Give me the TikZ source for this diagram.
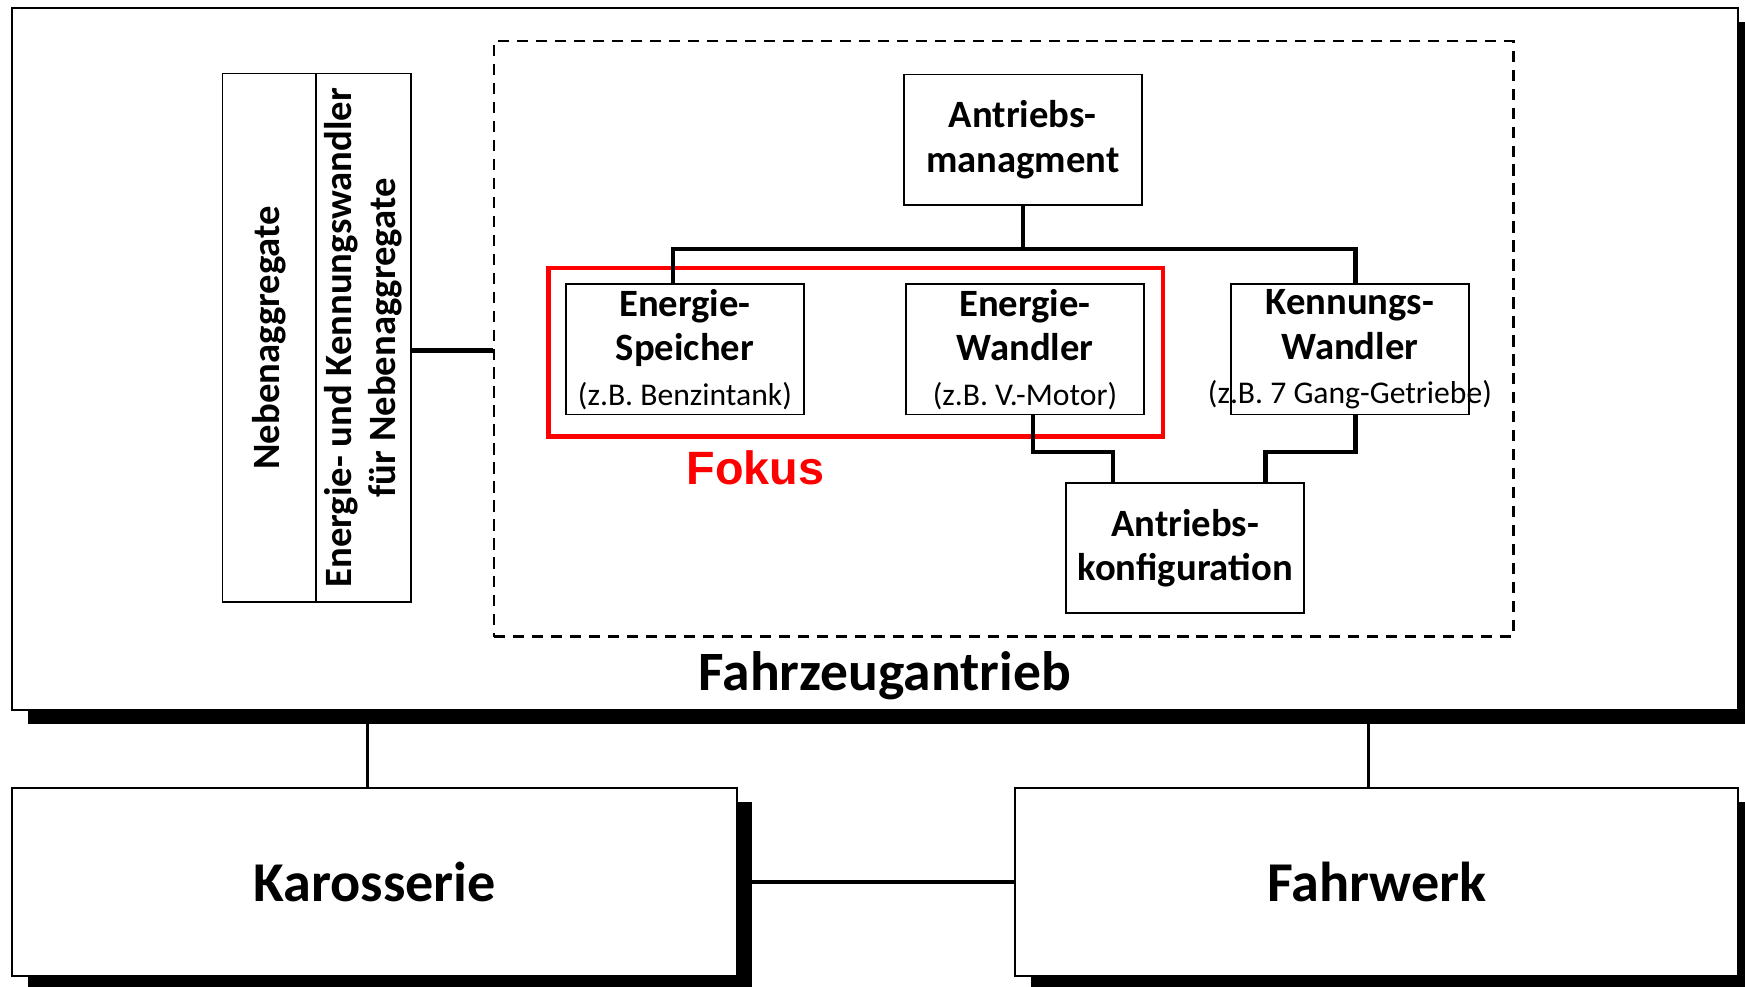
\documentclass[tikz,border=0pt]{standalone}
\usepackage{fontspec}
\setmainfont{Carlito}
\newfontfamily\fokusfont{Liberation Sans}
\usetikzlibrary{shadows}
\newlength{\px}
\setlength{\px}{0.11129mm}
\newcommand{\zb}[1]{{\mdseries\fontsize{9}{12}\selectfont #1}}

\begin{document}
\begin{tikzpicture}[x=0.11129mm,y=-0.11129mm,
  box/.style={draw,fill=white,line width=0.5pt,inner sep=0pt,align=center,
    minimum width=214\px,minimum height=117\px,
    font=\bfseries\fontsize{11}{12.7}\selectfont},
  bigbox/.style={draw,fill=white,line width=0.6pt,inner sep=0pt,
    font=\bfseries\fontsize{16}{18}\selectfont,
    drop shadow={shadow xshift=14\px,shadow yshift=-13\px,fill=black,opacity=1}},
  conn/.style={line width=1.25pt},
  thinconn/.style={line width=0.9pt}]

\useasboundingbox (0,0) rectangle (1568,886);

\node[bigbox,minimum width=1551\px,minimum height=631\px] (fa) at (786.5,322.5) {};
\node[font=\bfseries\fontsize{15.8}{17}\selectfont] (falbl) at (795,607) {Fahrzeugantrieb};
\node[bigbox,minimum width=651\px,minimum height=169\px] (kar) at (336.5,792.5) {Karosserie};
\node[bigbox,minimum width=650\px,minimum height=169\px] (fw)  at (1237,792.5) {Fahrwerk};

\node[draw,dash pattern=on 3.2pt off 2.2pt,line width=0.65pt,
  minimum width=916\px,minimum height=535\px] (ab) at (902,304.5) {};

% Nebenaggregate
\node[box,rotate=90,minimum width=475\px,minimum height=84\px] (neb1) at (242,303.5) {Nebenaggregate};
\node[box,rotate=90,minimum width=475\px,minimum height=85\px] (neb2) at (326.5,303.5)
  {Energie- und Kennungswandler\\für Nebenaggregate};

% Fokus
\node[draw=red,line width=1.3pt,minimum width=552\px,minimum height=151\px] (fokus) at (769,316.5) {};
\node[text=red,font=\fokusfont\bfseries\fontsize{13.3}{15}\selectfont] (fokuslbl) at (679,420) {Fokus};

\node[box] (am) at (919,125.5) {Antriebs-\\managment};
\node[box] (es) at (615.5,314) {Energie-\\Speicher\\\zb{(z.B. Benzintank)}};
\node[box] (ew) at (921,314) {Energie-\\Wandler\\\zb{(z.B. V.-Motor)}};
\node[box] (kw) at (1213,314) {Kennungs-\\Wandler\\\makebox[0pt]{\zb{(z.B. 7 Gang-Getriebe)}}};
\node[box] (ak) at (1065,492.5) {Antriebs-\\konfiguration};

\coordinate (jt) at (am.south |- 0,224);
\draw[conn] (am.south) -- (jt);
\draw[conn] ([xshift=-10.5\px]es.north) |- (jt) -| ([xshift=5\px]kw.north);
\draw[conn] ([xshift=7\px]ew.south) -- ++(0,33) -| ([xshift=-65\px]ak.north);
\draw[conn] ([xshift=5\px]kw.south) -- ++(0,33) -| ([xshift=72\px]ak.north);
\draw[conn] (neb2.south |- 0,315) -- (ab.west |- 0,315);

\draw[thinconn] ([xshift=-6.5\px]kar.north |- fa.south) -- ([xshift=-6.5\px]kar.north);
\draw[thinconn] ([xshift=-7\px]fw.north |- fa.south) -- ([xshift=-7\px]fw.north);
\draw[conn] (kar.east) -- (fw.west);

\end{tikzpicture}
\end{document}
